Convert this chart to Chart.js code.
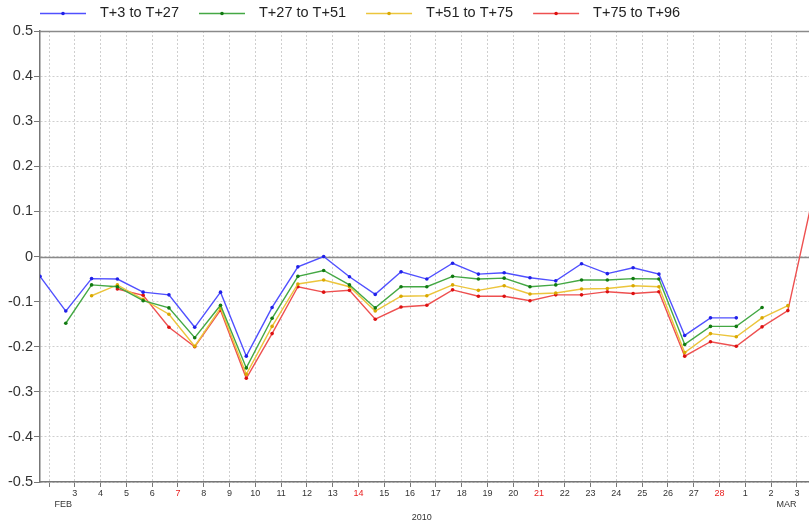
<!DOCTYPE html>
<html>
<head>
<meta charset="utf-8">
<script src="https://cdn.jsdelivr.net/npm/chart.js@4"></script>
<style>
  html, body { margin: 0; padding: 0; background: #fff; overflow: hidden; }
  #wrap { width: 809px; height: 524px; position: relative; }
</style>
</head>
<body>
<div id="wrap"><canvas id="cv"></canvas></div>
<script>
// series values, one per 24h step starting just before Feb 2 (null = no value)
const seriesNames = ['T+3 to T+27', 'T+27 to T+51', 'T+51 to T+75', 'T+75 to T+96'];
const blueVals = [-0.044, -0.121, -0.049, -0.050, -0.079, -0.085, -0.157, -0.079, -0.221, -0.113,
  -0.023, 0.000, -0.045, -0.084, -0.034, -0.050, -0.015, -0.039, -0.036, -0.047,
  -0.054, -0.016, -0.038, -0.025, -0.039, -0.175, -0.136, -0.136, null, null, null];
const greenVals = [null, -0.148, -0.063, -0.067, -0.098, -0.114, -0.180, -0.108, -0.247, -0.137,
  -0.044, -0.031, -0.063, -0.114, -0.067, -0.067, -0.044, -0.050, -0.048, -0.067,
  -0.063, -0.052, -0.052, -0.049, -0.050, -0.195, -0.155, -0.155, -0.113, null, null];
const yellowVals = [null, null, -0.087, -0.063, -0.095, -0.128, -0.199, -0.114, -0.261, -0.155,
  -0.061, -0.052, -0.067, -0.121, -0.088, -0.087, -0.063, -0.075, -0.065, -0.083,
  -0.081, -0.072, -0.071, -0.065, -0.067, -0.213, -0.171, -0.178, -0.136, -0.109, null];
const redVals = [null, null, null, -0.072, -0.086, -0.157, -0.200, -0.119, -0.270, -0.171,
  -0.067, -0.079, -0.075, -0.139, -0.112, -0.108, -0.074, -0.088, -0.088, -0.098,
  -0.085, -0.085, -0.078, -0.082, -0.078, -0.221, -0.189, -0.199, -0.156, -0.120, 0.140];

// day ticks: Feb 2 .. Mar 3
const tickLabels = ['', '3', '4', '5', '6', '7', '8', '9', '10', '11', '12', '13', '14', '15', '16',
  '17', '18', '19', '20', '21', '22', '23', '24', '25', '26', '27', '28', '1', '2', '3'];
const sundays = ['7', '14', '21', '28'];
const monthLabels = [{ text: 'FEB', at: 0.9 }, { text: 'MAR', at: 28.95 }];
const yearLabel = '2010';
const yTicks = [0.5, 0.4, 0.3, 0.2, 0.1, 0, -0.1, -0.2, -0.3, -0.4, -0.5];

const TICK_SHIFT = 0.35; // day ticks sit a bit right of the data steps
const lineCols = ['#5050ff', '#44a844', '#ecc53c', '#ee5050'];
const dotCols = ['#2020e8', '#117a11', '#d9a800', '#dd1010'];
const FONT = '"Liberation Sans", Arial, Helvetica, sans-serif';

const toPts = (arr) => arr.map((v, i) => ({ x: i, y: v }));
const allVals = [blueVals, greenVals, yellowVals, redVals];

const datasets = allVals.map((vals, i) => ({
  label: seriesNames[i],
  data: toPts(vals),
  borderColor: lineCols[i],
  backgroundColor: dotCols[i],
  pointBackgroundColor: dotCols[i],
  pointBorderColor: dotCols[i],
  borderWidth: 1.4,
  pointRadius: 1.8,
  pointBorderWidth: 0,
  tension: 0,
  spanGaps: false,
}));

// solid grey lines at 0 and at the top, plus legend and month/year texts
const extras = {
  id: 'extras',
  beforeDatasetsDraw(chart) {
    const { ctx, chartArea: a, scales: { y } } = chart;
    ctx.save();
    ctx.strokeStyle = '#8a8a8a';
    ctx.lineWidth = 1.5;
    [0, 0.5].forEach((v) => {
      const py = Math.round(y.getPixelForValue(v)) + 0.5;
      ctx.beginPath(); ctx.moveTo(a.left, py); ctx.lineTo(a.right, py); ctx.stroke();
    });
    ctx.restore();
  },
  afterDraw(chart) {
    const { ctx, scales: { x } } = chart;
    ctx.save();
    // legend
    ctx.font = '14.5px ' + FONT;
    ctx.textBaseline = 'middle';
    let lx = 40;
    const ly = 13;
    seriesNames.forEach((nm, i) => {
      ctx.strokeStyle = lineCols[i]; ctx.lineWidth = 1.3;
      ctx.beginPath(); ctx.moveTo(lx, ly + 0.5); ctx.lineTo(lx + 46, ly + 0.5); ctx.stroke();
      ctx.fillStyle = dotCols[i];
      ctx.beginPath(); ctx.arc(lx + 23, ly + 0.5, 1.8, 0, Math.PI * 2); ctx.fill();
      ctx.fillStyle = '#222';
      ctx.textAlign = 'left';
      ctx.fillText(nm, lx + 60, ly);
      lx += 60 + ctx.measureText(nm).width + 20;
    });
    // month + year
    ctx.font = '9px ' + FONT;
    ctx.fillStyle = '#333';
    ctx.textAlign = 'center';
    monthLabels.forEach((m) => ctx.fillText(m.text, x.getPixelForValue(m.at), 505));
    ctx.fillText(yearLabel, x.getPixelForValue(14.8), 518);
    ctx.restore();
  },
};

new Chart(document.getElementById('cv'), {
  type: 'line',
  data: { datasets },
  plugins: [extras],
  options: {
    responsive: true,
    maintainAspectRatio: false,
    animation: false,
    layout: { autoPadding: false, padding: { top: 31, left: 0, right: 0, bottom: 0 } },
    plugins: { legend: { display: false }, tooltip: { enabled: false } },
    scales: {
      x: {
        type: 'linear',
        min: 0,
        max: 29.82,
        afterBuildTicks: (s) => { s.ticks = tickLabels.map((_, i) => ({ value: i + TICK_SHIFT })); },
        afterFit: (s) => { s.height = 42; s.paddingRight = 0; s.paddingLeft = 0; },
        ticks: {
          autoSkip: false,
          maxRotation: 0,
          padding: 1,
          font: { family: FONT, size: 9 },
          color: (c) => (sundays.includes(c.tick && c.tick.label) ? '#e82020' : '#333'),
          callback: (v, i) => tickLabels[i],
        },
        grid: {
          color: '#cfcfcf',
          lineWidth: 1,
          tickLength: 5,
          tickColor: '#777',
          tickBorderDash: [],
        },
        border: { color: '#777', width: 1.5, dash: [2, 2] },
      },
      y: {
        min: -0.5,
        max: 0.5,
        afterBuildTicks: (s) => { s.ticks = yTicks.map((v) => ({ value: v })); },
        afterFit: (s) => { s.width = 40; s.paddingTop = 0; s.paddingBottom = 0; },
        ticks: {
          padding: 1,
          font: { family: FONT, size: 14.5 },
          color: '#333',
          callback: (v) => String(Math.round(v * 10) / 10),
        },
        grid: {
          color: '#cfcfcf',
          lineWidth: 1,
          tickLength: 6,
          tickColor: '#777',
          tickBorderDash: [],
        },
        border: { color: '#777', width: 1.5, dash: [2, 2] },
      },
    },
  },
});
</script>
</body>
</html>
